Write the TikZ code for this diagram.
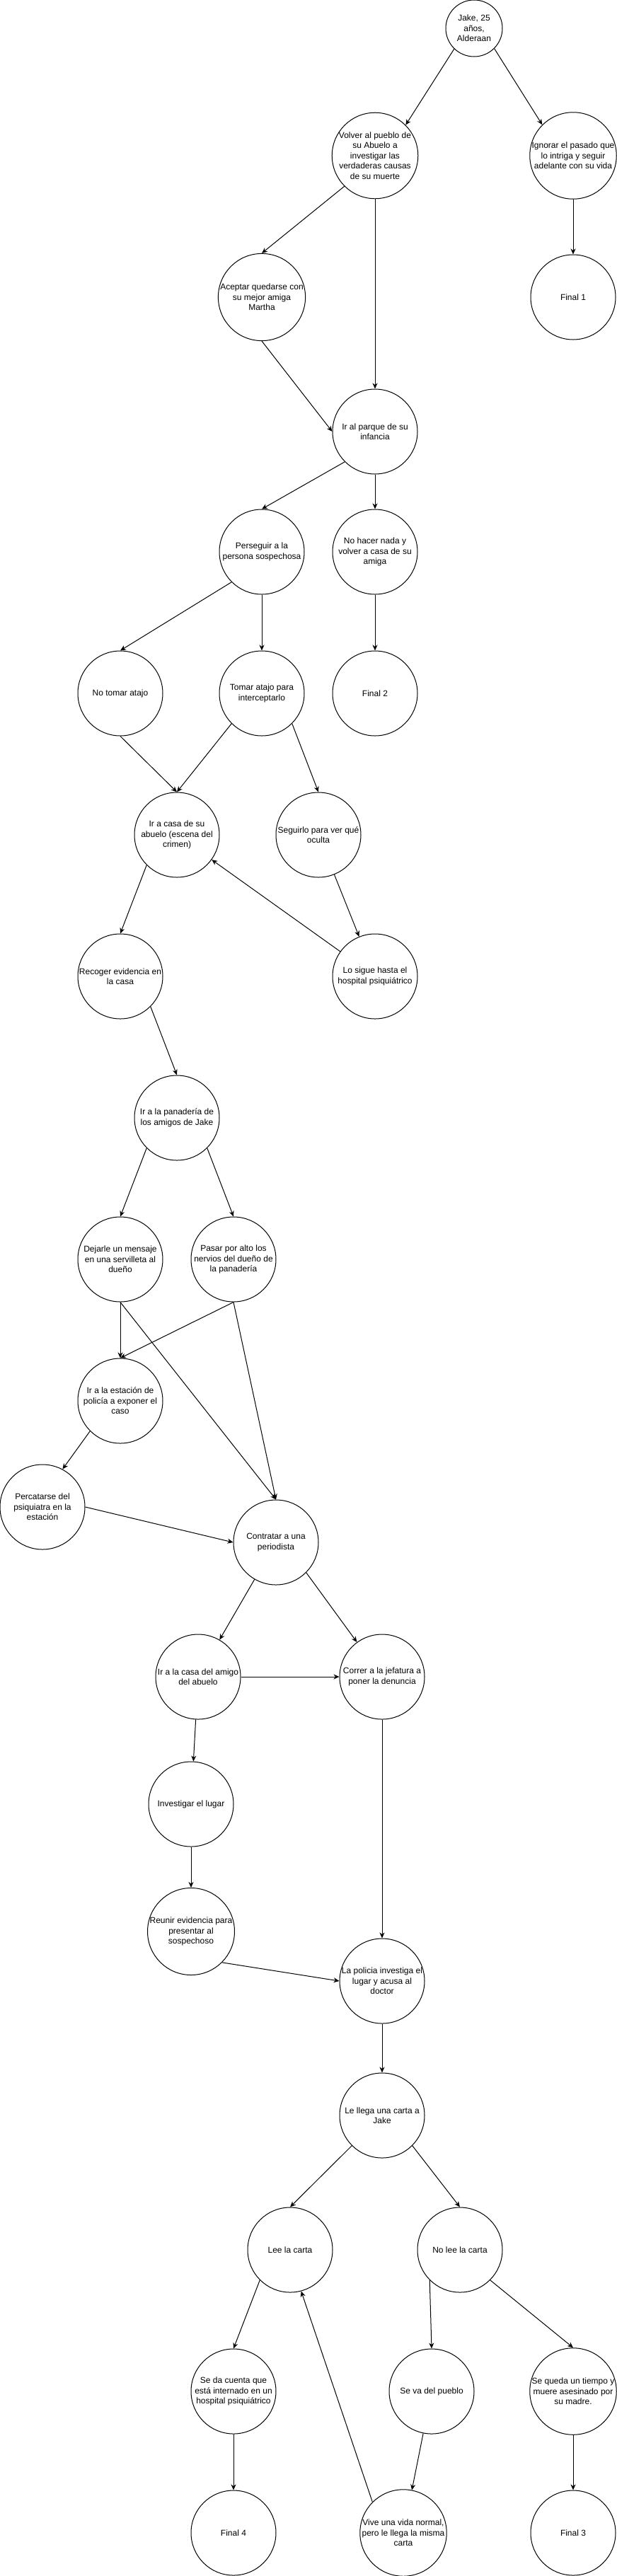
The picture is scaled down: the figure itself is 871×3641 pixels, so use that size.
\documentclass[tikz,border=0pt]{standalone}
\usepackage{fontspec}
\setmainfont{Liberation Sans}
\usetikzlibrary{arrows.meta}
\usetikzlibrary{shapes}
\newcommand{\escena}[4]{ \node[circulo] (#1) at ( #2 , #3 ) {#4};}

\begin{document}
\begin{tikzpicture}[x=1pt,y=-1pt,
    circulo/.style={draw, circle, minimum size=120pt, inner sep=0pt, line width=1pt,
        align=center, font=\fontsize{12}{14.4}\selectfont},
    flecha/.style={-{Stealth[length=8pt,width=7pt,inset=2.5pt]}, line width=1pt}]
        \useasboundingbox (0,0) rectangle (871,3641);

        % inicio
        \node[circulo, minimum size=80pt] (jake) at (670,40) {Jake, 25\\años,\\Alderaan};
        \escena{volver}{530}{220}{Volver al pueblo de\\su Abuelo a\\investigar las\\verdaderas causas\\de su muerte}
        \escena{ignorar}{810}{220}{Ignorar el pasado que\\lo intriga y seguir\\adelante con su vida}
        \escena{aceptar}{370}{420}{Aceptar quedarse con\\su mejor amiga\\Martha}
        \escena{final1}{810}{420}{Final 1}

        % parque
        \escena{parque}{530}{610}{Ir al parque de su\\infancia}
        \escena{perseguir}{370}{780}{Perseguir a la\\persona sospechosa}
        \escena{nohacer}{530}{780}{No hacer nada y\\volver a casa de su\\amiga}
        \escena{notomar}{170}{980}{No tomar atajo}
        \escena{tomar}{370}{980}{Tomar atajo para\\interceptarlo}
        \escena{final2}{530}{980}{Final 2}

        % casa del abuelo
        \escena{casa}{250}{1180}{Ir a casa de su\\abuelo (escena del\\crimen)}
        \escena{seguirlo}{450}{1180}{Seguirlo para ver qué\\oculta}
        \escena{recoger}{170}{1380}{Recoger evidencia en\\la casa}
        \escena{losigue}{530}{1380}{Lo sigue hasta el\\hospital psiquiátrico}

        % panaderia
        \escena{panaderia}{250}{1580}{Ir a la panadería de\\los amigos de Jake}
        \escena{dejarle}{170}{1780}{Dejarle un mensaje\\en una servilleta al\\dueño}
        \escena{pasar}{330}{1780}{Pasar por alto los\\nervios del dueño de\\la panadería}
        \escena{estacion}{170}{1980}{Ir a la estación de\\policía a exponer el\\caso}
        \escena{percatarse}{60}{2130}{Percatarse del\\psiquiatra en la\\estación}

        % periodista
        \escena{contratar}{390}{2180}{Contratar a una\\periodista}
        \escena{amigo}{280}{2370}{Ir a la casa del amigo\\del abuelo}
        \escena{correr}{540}{2370}{Correr a la jefatura a\\poner la denuncia}
        \escena{investigar}{270}{2550}{Investigar el lugar}
        \escena{reunir}{270}{2730}{Reunir evidencia para\\presentar al\\sospechoso}
        \escena{policia}{540}{2800}{La policia investiga el\\lugar y acusa al\\doctor}

        % la carta
        \escena{carta}{540}{2990}{Le llega una carta a\\Jake}
        \escena{lee}{410}{3180}{Lee la carta}
        \escena{nolee}{650}{3180}{No lee la carta}
        \escena{seda}{330}{3380}{Se da cuenta que\\está internado en un\\hospital psiquiátrico}
        \escena{seva}{610}{3380}{Se va del pueblo}
        \escena{sequeda}{810}{3380}{Se queda un tiempo y\\muere asesinado por\\su madre.}
        \escena{final4}{330}{3580}{Final 4}
        \escena{vive}{570}{3580}{Vive una vida normal,\\pero le llega la misma\\carta}
        \escena{final3}{810}{3580}{Final 3}

        % flechas
        \draw[flecha] (jake.226) -- (volver.45);
        \draw[flecha] (jake.315) -- (ignorar.135);
        \draw[flecha] (volver.225) -- (aceptar.north);
        \draw[flecha] (volver.south) -- (parque.north);
        \draw[flecha] (ignorar.south) -- (final1.north);
        \draw[flecha] (aceptar.south) -- (parque.west);
        \draw[flecha] (parque.225) -- (perseguir.north);
        \draw[flecha] (parque.south) -- (nohacer.north);
        \draw[flecha] (perseguir.225) -- (notomar.north);
        \draw[flecha] (perseguir.south) -- (tomar.north);
        \draw[flecha] (nohacer.south) -- (final2.north);
        \draw[flecha] (notomar.south) -- (casa.north);
        \draw[flecha] (tomar.225) -- (casa.north);
        \draw[flecha] (tomar.315) -- (seguirlo.north);
        \draw[flecha] (seguirlo) -- (losigue);
        \draw[flecha] (losigue) -- (casa);
        \draw[flecha] (casa.225) -- (recoger.north);
        \draw[flecha] (recoger.315) -- (panaderia.north);
        \draw[flecha] (panaderia.225) -- (dejarle.north);
        \draw[flecha] (panaderia.315) -- (pasar.north);
        \draw[flecha] (dejarle.south) -- (estacion.north);
        \draw[flecha] (dejarle.south) -- (contratar.north);
        \draw[flecha] (pasar.south) -- (estacion.north);
        \draw[flecha] (pasar.south) -- (contratar.north);
        \draw[flecha] (estacion.225) -- (percatarse.62);
        \draw[flecha] (percatarse.east) -- (contratar.west);
        \draw[flecha] (contratar) -- (amigo);
        \draw[flecha] (contratar.315) -- (correr.126);
        \draw[flecha] (amigo.east) -- (correr.west);
        \draw[flecha] (amigo) -- (investigar);
        \draw[flecha] (investigar.south) -- (reunir.north);
        \draw[flecha] (reunir.315) -- (policia.west);
        \draw[flecha] (correr.south) -- (policia.north);
        \draw[flecha] (policia.south) -- (carta.north);
        \draw[flecha] (carta.225) -- (lee.north);
        \draw[flecha] (carta.315) -- (nolee.north);
        \draw[flecha] (lee.225) -- (seda.north);
        \draw[flecha] (seda.south) -- (final4.north);
        \draw[flecha] (vive.135) -- (lee.285);
        \draw[flecha] (nolee.225) -- (seva.north);
        \draw[flecha] (nolee.315) -- (sequeda.north);
        \draw[flecha] (seva) -- (vive);
        \draw[flecha] (sequeda.south) -- (final3.north);

    \end{tikzpicture}
\end{document}
